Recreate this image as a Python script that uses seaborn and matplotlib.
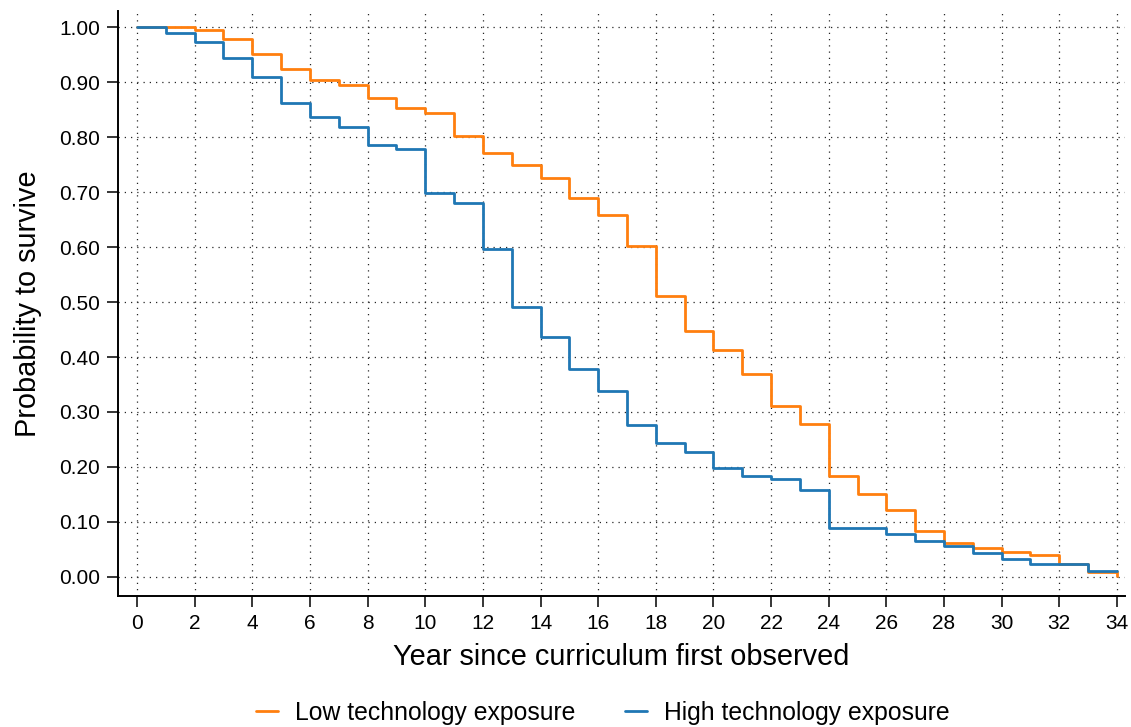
import numpy as np
import pandas as pd
import matplotlib
matplotlib.use("Agg")
import matplotlib.pyplot as plt
from matplotlib.lines import Line2D
import seaborn as sns

# ---- data -------------------------------------------------------------
years = list(range(0, 35))
low_exposure = [1.000, 1.000, 0.995, 0.979, 0.951, 0.925, 0.905, 0.896, 0.871, 0.853,
                0.845, 0.802, 0.771, 0.749, 0.726, 0.690, 0.658, 0.602, 0.511, 0.448,
                0.412, 0.370, 0.311, 0.279, 0.183, 0.151, 0.122, 0.084, 0.061, 0.053,
                0.046, 0.039, 0.024, 0.008, 0.001]
high_exposure = [1.000, 0.990, 0.973, 0.944, 0.909, 0.863, 0.837, 0.819, 0.786, 0.778,
                 0.698, 0.681, 0.597, 0.492, 0.437, 0.378, 0.339, 0.277, 0.243, 0.228,
                 0.198, 0.183, 0.178, 0.158, 0.089, 0.089, 0.078, 0.066, 0.056, 0.044,
                 0.033, 0.023, 0.023, 0.011, 0.011]
series_names = ["Low technology exposure", "High technology exposure"]
series_colors = ["#ff7f0e", "#1f77b4"]
x_ticks = list(range(0, 35, 2))
y_ticks = [0.0, 0.1, 0.2, 0.3, 0.4, 0.5, 0.6, 0.7, 0.8, 0.9, 1.0]

df = pd.concat([
    pd.DataFrame({"year": years, "surv": low_exposure, "group": series_names[0]}),
    pd.DataFrame({"year": years, "surv": high_exposure, "group": series_names[1]}),
], ignore_index=True)

# ---- style ------------------------------------------------------------
sns.set_style("ticks")
plt.rcParams["font.family"] = ["Liberation Sans", "DejaVu Sans"]
plt.rcParams["text.color"] = "black"
plt.rcParams["axes.labelcolor"] = "black"

fig = plt.figure(figsize=(11.31, 7.27), dpi=100)
ax = fig.add_axes([118 / 1131, 1 - 596 / 727, (1125 - 118) / 1131, (596 - 11) / 727])

sns.lineplot(data=df, x="year", y="surv", hue="group", hue_order=series_names,
             palette=series_colors, estimator=None, drawstyle="steps-post",
             linewidth=2.0, ax=ax, legend=False, zorder=3)

ax.set_xlim(-0.66, 34.28)
ax.set_ylim(-0.035, 1.03)
ax.set_xticks(x_ticks)
ax.set_yticks(y_ticks)
ax.set_yticklabels([f"{v:.2f}" for v in y_ticks])

ax.grid(True, which="major", color="0.15", linestyle=(0, (1, 4)), linewidth=0.9)
ax.set_axisbelow(True)

for side in ["top", "right"]:
    ax.spines[side].set_visible(False)
for side in ["left", "bottom"]:
    ax.spines[side].set_linewidth(1.4)
    ax.spines[side].set_color("black")

ax.tick_params(axis="both", direction="out", length=8, width=1.1, color="black",
               labelsize=15, labelcolor="black", pad=5)

ax.set_xlabel("Year since curriculum first observed", fontsize=20.8, labelpad=7,
              color="black")
ax.set_ylabel("Probability to survive", fontsize=20.8, labelpad=12, color="black")

handles = [Line2D([0], [0], color=c, lw=2.0) for c in series_colors]
fig.legend(handles, series_names, loc="center", bbox_to_anchor=(0.533, 1 - 713 / 727),
           ncol=2, frameon=False, fontsize=17.8, handlelength=0.9,
           columnspacing=2.0, handletextpad=0.7, labelcolor="black")

fig.savefig("out.png", dpi=100)
